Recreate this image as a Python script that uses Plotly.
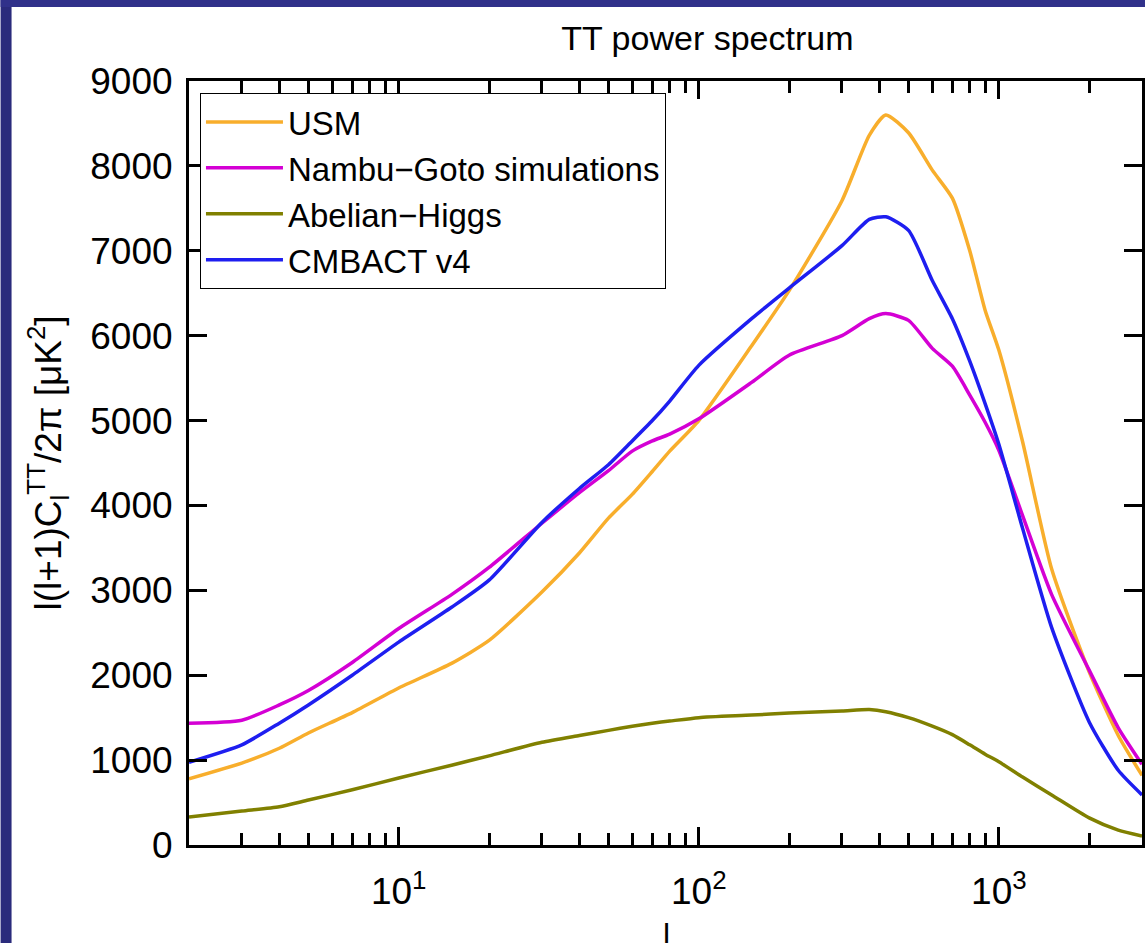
import plotly.graph_objects as go

# multipole l values
ell = [2, 3, 4, 5, 7, 10, 15, 20, 30, 40, 50, 60, 70, 80, 100, 150, 200, 300, 370, 420, 500,
       600, 700, 800, 900, 1000, 1200, 1500, 2000, 2500, 3000]

usm = [780, 965, 1140, 1320, 1560, 1850, 2140, 2410, 2980, 3440, 3850, 4130, 4400, 4640, 5000,
       5880, 6530, 7590, 8360, 8600, 8390, 7950, 7620, 7000, 6300, 5830, 4750, 3250, 2040, 1290, 820]

nambu = [1435, 1470, 1650, 1820, 2150, 2550, 2950, 3270, 3790, 4150, 4410, 4640, 4760, 4840, 5020,
         5450, 5770, 6000, 6200, 6260, 6180, 5850, 5640, 5300, 4980, 4650, 3880, 2950, 2060, 1380, 950]

cmbact = [975, 1180, 1435, 1650, 2000, 2390, 2800, 3120, 3800, 4200, 4480, 4760, 5000, 5230, 5650,
          6200, 6560, 7060, 7370, 7400, 7240, 6650, 6200, 5700, 5200, 4720, 3730, 2560, 1450, 880, 590]

abelian = [330, 400, 450, 530, 650, 790, 940, 1050, 1210, 1290, 1350, 1400, 1435, 1460, 1500,
           1530, 1555, 1580, 1595, 1570, 1500, 1400, 1300, 1180, 1070, 980, 800, 590, 320, 175, 105]

series_names = ["USM", "Nambu\u2212Goto simulations", "Abelian\u2212Higgs", "CMBACT v4"]
series_colors = ["#F8AE2C", "#D400D4", "#808000", "#1E1EF0"]
series_values = [usm, nambu, abelian, cmbact]

major_x = [10, 100, 1000]
major_x_text = ["10<sup>1</sup>", "10<sup>2</sup>", "10<sup>3</sup>"]
minor_x = [3, 4, 5, 6, 7, 8, 9, 20, 30, 40, 50, 60, 70, 80, 90,
           200, 300, 400, 500, 600, 700, 800, 900, 2000]
y_ticks = [0, 1000, 2000, 3000, 4000, 5000, 6000, 7000, 8000, 9000]

FONT = "Liberation Sans, Arial, Helvetica, sans-serif"
W, H = 1148, 943
ML, MR, MT, MB = 189, 3, 81, 98
PW, PH = W - ML - MR, H - MT - MB
XR = [0.30103, 3.4771]
YR = [0, 9000]

fig = go.Figure()
for name, col, vals in zip(series_names, series_colors, series_values):
    fig.add_trace(go.Scatter(x=ell, y=vals, mode="lines", name=name,
                             line=dict(color=col, width=3.5, shape="spline", smoothing=0.6)))

# invisible helper traces so the overlaid tick-only axes are drawn
for xa, ya in [("x2", "y"), ("x3", "y"), ("x4", "y"), ("x5", "y"), ("x", "y2"), ("x", "y3")]:
    fig.add_trace(go.Scatter(x=[ell[0]], y=[usm[0]], xaxis=xa, yaxis=ya, mode="markers",
                             marker=dict(opacity=0), showlegend=False, hoverinfo="skip"))

def px_x(p):
    return (p - ML) / PW

def px_y(p):
    return 1 - (p - MT) / PH

# slide background strips (blue frame) outside the white figure panel
fig.add_shape(type="rect", xref="paper", yref="paper", layer="above",
              x0=px_x(0), x1=px_x(11), y0=px_y(H), y1=px_y(0),
              fillcolor="#2a2b7c", line=dict(width=0))
fig.add_shape(type="rect", xref="paper", yref="paper", layer="above",
              x0=px_x(0), x1=px_x(W), y0=px_y(7), y1=px_y(0),
              fillcolor="#30318a", line=dict(width=0))

fig.add_annotation(text="l(l+1)C<sub>l</sub><sup>TT</sup>/2\u03c0 [\u03bcK<sup>2</sup>]",
                   xref="paper", yref="paper", x=px_x(47), y=px_y(463),
                   textangle=-90, showarrow=False, xanchor="center", yanchor="middle",
                   font=dict(family=FONT, size=37, color="black"))
fig.add_annotation(text="l", xref="paper", yref="paper", x=px_x(668), y=px_y(935),
                   showarrow=False, xanchor="center", yanchor="middle",
                   font=dict(family=FONT, size=32, color="black"))

frame = dict(showline=True, linecolor="black", linewidth=3)
major = dict(ticks="inside", ticklen=18, tickwidth=3, tickcolor="black",
             showgrid=False, zeroline=False, showline=False, showticklabels=False)
minor = dict(ticks="inside", ticklen=12, tickwidth=3, tickcolor="black",
             showgrid=False, zeroline=False, showline=False, showticklabels=False)

fig.update_layout(
    width=W, height=H,
    margin=dict(l=ML, r=MR, t=MT, b=MB),
    paper_bgcolor="white", plot_bgcolor="white",
    font=dict(family=FONT, size=37, color="black"),
    title=dict(text="TT power spectrum", x=px_x(709), xref="paper", xanchor="center",
               y=1 - 38 / H, yref="container", yanchor="middle",
               font=dict(family=FONT, size=34, color="black")),
    legend=dict(x=px_x(200), y=px_y(93), xanchor="left", yanchor="top",
                bgcolor="white", bordercolor="black", borderwidth=1,
                font=dict(family=FONT, size=33, color="black"),
                tracegroupgap=0, itemwidth=77),
    showlegend=True,
    # main axes: frame lines + tick labels only
    xaxis=dict(type="log", range=XR, side="bottom", ticks="", showgrid=False, zeroline=False,
               **frame, mirror=True,
               tickmode="array", tickvals=major_x, ticktext=major_x_text,
               ticklabelstandoff=12,
               tickfont=dict(family=FONT, size=37, color="black")),
    yaxis=dict(range=YR, side="left", ticks="", showgrid=False, zeroline=False,
               **frame, mirror=True,
               tickmode="array", tickvals=y_ticks, ticktext=[str(v) for v in y_ticks],
               ticklabelstandoff=6,
               tickfont=dict(family=FONT, size=37, color="black")),
    # overlaid tick-only axes
    xaxis2=dict(type="log", range=XR, overlaying="x", side="bottom", anchor="y",
                **major, tickmode="array", tickvals=major_x),
    xaxis5=dict(type="log", range=XR, overlaying="x", side="bottom", anchor="y",
                **minor, tickmode="array", tickvals=minor_x),
    xaxis3=dict(type="log", range=XR, overlaying="x", side="top", anchor="y",
                **major, tickmode="array", tickvals=major_x),
    xaxis4=dict(type="log", range=XR, overlaying="x", side="top", anchor="y",
                **minor, tickmode="array", tickvals=minor_x),
    yaxis2=dict(range=YR, overlaying="y", side="right", anchor="x",
                **major, tickmode="array", tickvals=y_ticks),
    yaxis3=dict(range=YR, overlaying="y", side="left", anchor="x",
                **major, tickmode="array", tickvals=y_ticks),
)

fig.write_html("out.html")
